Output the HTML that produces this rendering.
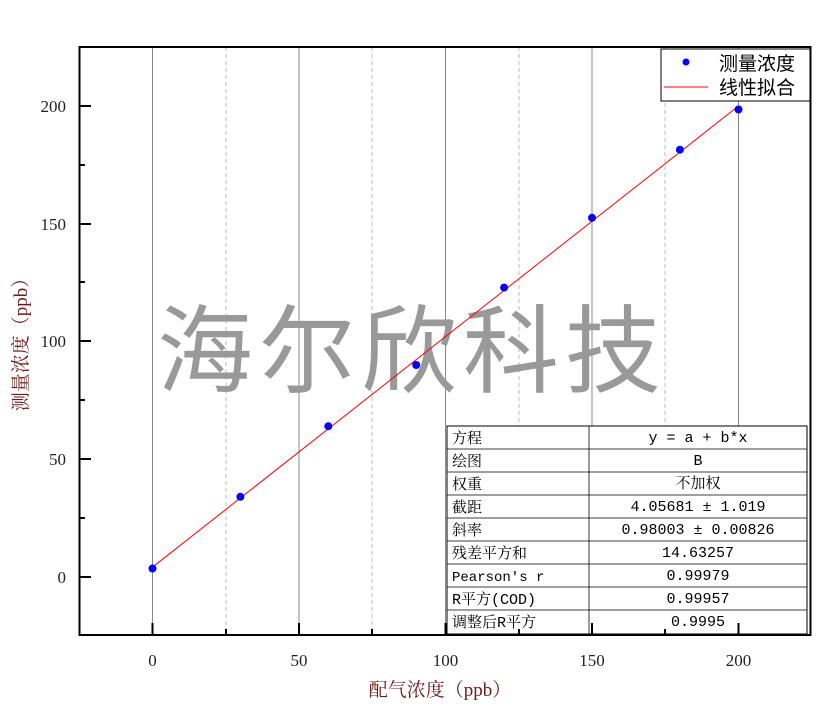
<!DOCTYPE html>
<html><head><meta charset="utf-8"><style>
html,body{margin:0;padding:0;background:#fff;}
svg{display:block;}
</style></head><body>
<svg width="822" height="705" xmlns="http://www.w3.org/2000/svg">
<rect width="822" height="705" fill="#fff"/>
<g stroke="#888" stroke-width="1">
<line x1="152.5" y1="47" x2="152.5" y2="634"/>
<line x1="299" y1="47" x2="299" y2="634"/>
<line x1="445.5" y1="47" x2="445.5" y2="634"/>
<line x1="592" y1="47" x2="592" y2="634"/>
<line x1="738.5" y1="47" x2="738.5" y2="634"/>
</g>
<g stroke="#bbb" stroke-width="1" stroke-dasharray="4,3">
<line x1="226" y1="47" x2="226" y2="634"/>
<line x1="372" y1="47" x2="372" y2="634"/>
<line x1="519" y1="47" x2="519" y2="634"/>
<line x1="665" y1="47" x2="665" y2="634"/>
</g>
<text x="412" y="385" font-family="'Noto Sans CJK SC',sans-serif" font-size="96" fill="#999" text-anchor="middle" letter-spacing="6">海尔欣科技</text>
<line x1="152.5" y1="567.2" x2="738.5" y2="106" stroke="#f00" stroke-width="1"/>
<g fill="#00f">
<circle cx="152.5" cy="568.5" r="4"/>
<circle cx="240.4" cy="496.8" r="4"/>
<circle cx="328.3" cy="426.2" r="4"/>
<circle cx="416.2" cy="365" r="4"/>
<circle cx="504.1" cy="287.6" r="4"/>
<circle cx="592" cy="217.8" r="4"/>
<circle cx="679.9" cy="149.7" r="4"/>
<circle cx="738.5" cy="109.5" r="4"/>
</g>
<g font-family="'Liberation Mono','Noto Serif CJK SC',monospace" font-size="15" fill="#000">
<rect x="447" y="426" width="360" height="208" fill="#fff" stroke="#000" stroke-width="1"/>
<line x1="589" y1="426" x2="589" y2="634" stroke="#000" stroke-width="0.8"/>
<g stroke="#000" stroke-width="0.8">
<line x1="447" y1="449" x2="807" y2="449"/><line x1="447" y1="472" x2="807" y2="472"/>
<line x1="447" y1="495" x2="807" y2="495"/><line x1="447" y1="518" x2="807" y2="518"/>
<line x1="447" y1="541" x2="807" y2="541"/><line x1="447" y1="564" x2="807" y2="564"/>
<line x1="447" y1="587" x2="807" y2="587"/><line x1="447" y1="610" x2="807" y2="610"/>
</g>
<text x="452" y="443">方程</text><text x="698" y="442" text-anchor="middle">y = a + b*x</text>
<text x="452" y="466">绘图</text><text x="698" y="465" text-anchor="middle">B</text>
<text x="452" y="489">权重</text><text x="698" y="488" text-anchor="middle">不加权</text>
<text x="452" y="512">截距</text><text x="698" y="511" text-anchor="middle">4.05681 ± 1.019</text>
<text x="452" y="535">斜率</text><text x="698" y="534" text-anchor="middle">0.98003 ± 0.00826</text>
<text x="452" y="558">残差平方和</text><text x="698" y="557" text-anchor="middle">14.63257</text>
<text x="452" y="581" font-size="14">Pearson's r</text><text x="698" y="580" text-anchor="middle">0.99979</text>
<text x="452" y="604">R平方(COD)</text><text x="698" y="603" text-anchor="middle">0.99957</text>
<text x="452" y="627">调整后R平方</text><text x="698" y="626" text-anchor="middle">0.9995</text>
</g>
<rect x="661" y="49" width="149" height="52" fill="#fff" stroke="#000" stroke-width="1"/>
<circle cx="686" cy="62" r="3.5" fill="#00f"/>
<line x1="664" y1="87" x2="708" y2="87" stroke="#f00" stroke-width="1"/>
<g font-family="'Noto Sans CJK SC',sans-serif" font-size="19" fill="#000">
<text x="719" y="70">测量浓度</text>
<text x="719" y="94">线性拟合</text>
</g>
<rect x="79.5" y="47" width="731" height="588" fill="none" stroke="#000" stroke-width="2"/>
<g stroke="#000" stroke-width="2">
<line x1="79" y1="106" x2="91" y2="106"/><line x1="79" y1="224" x2="91" y2="224"/>
<line x1="79" y1="341" x2="91" y2="341"/><line x1="79" y1="459" x2="91" y2="459"/>
<line x1="79" y1="577" x2="91" y2="577"/>
<line x1="79" y1="165" x2="85" y2="165"/><line x1="79" y1="282" x2="85" y2="282"/>
<line x1="79" y1="400" x2="85" y2="400"/><line x1="79" y1="518" x2="85" y2="518"/>
<line x1="152.5" y1="635" x2="152.5" y2="623"/><line x1="299" y1="635" x2="299" y2="623"/>
<line x1="445.5" y1="635" x2="445.5" y2="623"/><line x1="592" y1="635" x2="592" y2="623"/>
<line x1="738.5" y1="635" x2="738.5" y2="623"/>
<line x1="226" y1="635" x2="226" y2="629"/><line x1="372" y1="635" x2="372" y2="629"/>
<line x1="519" y1="635" x2="519" y2="629"/><line x1="665" y1="635" x2="665" y2="629"/>
</g>
<g font-family="'Liberation Serif',serif" font-size="17" fill="#222">
<text x="66" y="112" text-anchor="end">200</text>
<text x="66" y="230" text-anchor="end">150</text>
<text x="66" y="347" text-anchor="end">100</text>
<text x="66" y="465" text-anchor="end">50</text>
<text x="66" y="583" text-anchor="end">0</text>
<text x="152.5" y="666" text-anchor="middle">0</text>
<text x="299" y="666" text-anchor="middle">50</text>
<text x="445.5" y="666" text-anchor="middle">100</text>
<text x="592" y="666" text-anchor="middle">150</text>
<text x="738.5" y="666" text-anchor="middle">200</text>
</g>
<g font-family="'Liberation Serif','Noto Serif CJK SC',serif" font-size="19" fill="#6b1a1a">
<text x="440" y="696" text-anchor="middle">配气浓度（ppb）</text>
<text transform="translate(27,340) rotate(-90)" text-anchor="middle">测量浓度（ppb）</text>
</g>
</svg>
</body></html>
